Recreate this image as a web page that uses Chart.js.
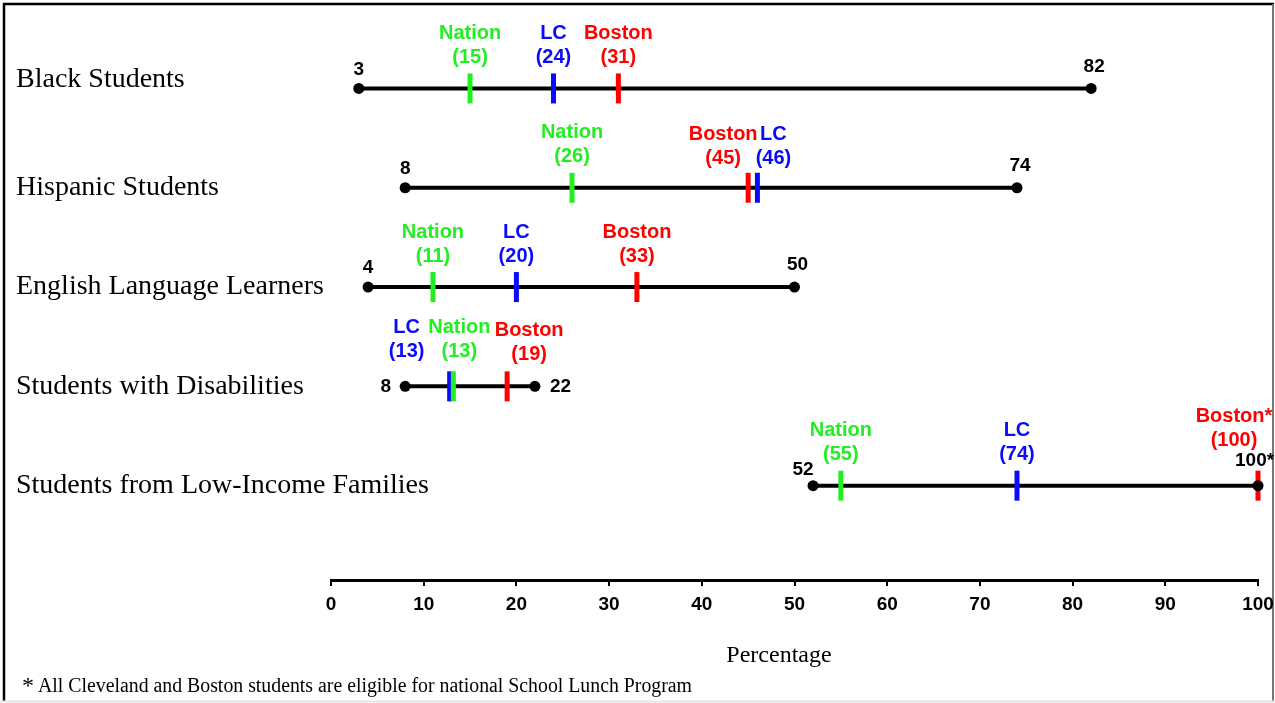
<!DOCTYPE html>
<html lang="en">
<head>
  <meta charset="UTF-8">
  <title>Student groups - percentage ranges</title>
  <script src="https://cdn.jsdelivr.net/npm/chart.js"></script>
  <style>
    html, body { margin: 0; padding: 0; background: #fff; }
    #chart { display: block; }
  </style>
</head>
<body>
  <canvas id="chart" width="1275" height="703"></canvas>

  <script>
    // row categories, top to bottom
    const rows = ['Black Students', 'Hispanic Students', 'English Language Learners',
      'Students with Disabilities', 'Students from Low-Income Families'];
    // range across the compared districts
    const rangeMin = [3, 8, 4, 8, 52];
    const rangeMax = [82, 74, 50, 22, 100];
    // markers (LC and Nation both read 13 in disabilities row, drawn side by side)
    const nation = [15, 26, 11, 13.2, 55];
    const lc = [24, 46, 20, 12.8, 74];
    const boston = [31, 45, 33, 19, 100];
    const xTicks = [0, 10, 20, 30, 40, 50, 60, 70, 80, 90, 100];
    const footnoteRow = 4;

    const GREEN = '#22ee22', BLUE = '#0a0aff', RED = '#ff0000';
    const SANS = '"Liberation Sans", Arial, sans-serif';
    const SERIF = '"Liberation Serif", "Times New Roman", serif';

    const markerSeries = [
      { name: 'Nation', values: nation, color: GREEN },
      { name: 'LC', values: lc, color: BLUE },
      { name: 'Boston', values: boston, color: RED }
    ];

    // label nudges where the marker labels would collide
    const labelShift = {
      '1-Boston': [-25, 2], '1-LC': [16, 2],
      '3-LC': [-43, -4], '3-Nation': [6, -4], '3-Boston': [22, -1],
      '4-Boston': [-24, -14]
    };

    const rangeSets = rows.map((r, i) => ({
      type: 'scatter',
      data: [{ x: rangeMin[i], y: i }, { x: rangeMax[i], y: i }],
      showLine: true,
      borderColor: '#000',
      borderWidth: 4,
      pointRadius: 0,
      clip: false,
      order: 3
    }));

    const markerSets = markerSeries.map(s => ({
      type: 'scatter',
      label: s.name,
      data: s.values.map((v, i) => ({ x: v, y: i })),
      pointStyle: 'line',
      rotation: 90,
      pointRadius: 15,
      borderWidth: 5,
      borderColor: s.color,
      backgroundColor: s.color,
      clip: false,
      order: 2
    }));

    const dotSet = {
      type: 'scatter',
      data: rows.flatMap((r, i) => [{ x: rangeMin[i], y: i }, { x: rangeMax[i], y: i }]),
      pointRadius: 5.5,
      backgroundColor: '#000',
      borderColor: '#000',
      borderWidth: 0,
      clip: false,
      order: 1
    };

    const framePlugin = {
      id: 'frame',
      beforeDraw(chart) {
        const ctx = chart.ctx;
        ctx.save();
        ctx.fillStyle = '#fff';
        ctx.fillRect(0, 0, chart.width, chart.height);
        ctx.strokeStyle = '#000';
        ctx.lineWidth = 2.5;
        ctx.beginPath();
        ctx.moveTo(4, 701);
        ctx.lineTo(4, 4);
        ctx.lineTo(1274, 4);
        ctx.stroke();
        ctx.strokeStyle = '#777';
        ctx.lineWidth = 2;
        ctx.beginPath();
        ctx.moveTo(1273, 4);
        ctx.lineTo(1273, 701);
        ctx.stroke();
        ctx.strokeStyle = '#e6e6e6';
        ctx.beginPath();
        ctx.moveTo(0, 701.5);
        ctx.lineTo(1275, 701.5);
        ctx.stroke();
        ctx.restore();
      }
    };

    const labelPlugin = {
      id: 'labels',
      afterDraw(chart) {
        const ctx = chart.ctx;
        const yScale = chart.scales.y;
        ctx.save();

        // row names on the left
        ctx.fillStyle = '#000';
        ctx.font = '28px ' + SERIF;
        ctx.textAlign = 'left';
        ctx.textBaseline = 'middle';
        rows.forEach((r, i) => {
          ctx.fillText(r, 16, yScale.getPixelForValue(i) + (i === 0 ? -9 : 0));
        });

        // marker labels: name over value
        markerSets.forEach((ds, k) => {
          const s = markerSeries[k];
          const meta = chart.getDatasetMeta(k + rangeSets.length);
          meta.data.forEach((pt, i) => {
            const sh = labelShift[i + '-' + s.name] || [0, 0];
            const name = (s.name === 'Boston' && i === footnoteRow) ? 'Boston*' : s.name;
            ctx.fillStyle = s.color;
            ctx.font = 'bold 20px ' + SANS;
            ctx.textAlign = 'center';
            ctx.textBaseline = 'middle';
            ctx.fillText(name, pt.x + sh[0], pt.y - 55 + sh[1]);
            ctx.fillText('(' + Math.round(s.values[i]) + ')', pt.x + sh[0], pt.y - 31 + sh[1]);
          });
        });

        // range end labels
        const dots = chart.getDatasetMeta(chart.data.datasets.length - 1).data;
        ctx.fillStyle = '#000';
        ctx.font = 'bold 19px ' + SANS;
        ctx.textBaseline = 'middle';
        rows.forEach((r, i) => {
          const a = dots[i * 2], b = dots[i * 2 + 1];
          const lo = String(rangeMin[i]);
          const hi = String(rangeMax[i]) + (i === footnoteRow ? '*' : '');
          if (i === 3) {
            ctx.textAlign = 'right';
            ctx.fillText(lo, a.x - 14, a.y);
            ctx.textAlign = 'left';
            ctx.fillText(hi, b.x + 15, b.y);
          } else if (i === footnoteRow) {
            ctx.textAlign = 'center';
            ctx.fillText(lo, a.x - 10, a.y - 16);
            ctx.textAlign = 'left';
            ctx.fillText(hi, b.x - 23, b.y - 25);
          } else {
            ctx.textAlign = 'center';
            ctx.fillText(lo, a.x, a.y - 19);
            ctx.fillText(hi, b.x + 3, b.y - 22);
          }
        });

        // axis title and footnote
        ctx.fillStyle = '#000';
        ctx.textAlign = 'center';
        ctx.textBaseline = 'alphabetic';
        ctx.font = '24px ' + SERIF;
        ctx.fillText('Percentage', 779, 662);
        ctx.textAlign = 'left';
        ctx.font = '24px ' + SERIF;
        ctx.fillText('*', 22, 693);
        ctx.font = '20px ' + SERIF;
        ctx.fillText('All Cleveland and Boston students are eligible for national School Lunch Program', 38, 692, 654);
        ctx.restore();
      }
    };

    new Chart(document.getElementById('chart'), {
      type: 'scatter',
      data: { datasets: [...rangeSets, ...markerSets, dotSet] },
      options: {
        responsive: false,
        animation: false,
        events: [],
        layout: { autoPadding: false, padding: { left: 331, right: 17, top: 9, bottom: 83 } },
        plugins: { legend: { display: false }, tooltip: { enabled: false } },
        scales: {
          x: {
            type: 'linear',
            min: 0,
            max: 100,
            afterBuildTicks: s => { s.ticks = xTicks.map(v => ({ value: v })); },
            afterFit: s => { s.height = 40; s.paddingLeft = 0; s.paddingRight = 0; },
            grid: { drawOnChartArea: false, drawTicks: true, tickLength: 6, color: '#000', lineWidth: 2 },
            border: { color: '#000', width: 3 },
            ticks: { color: '#000', font: { family: SANS, size: 19, weight: 'bold' }, padding: 7, maxRotation: 0 }
          },
          y: {
            type: 'linear',
            display: false,
            reverse: true,
            min: -0.8,
            max: 4.95
          }
        }
      },
      plugins: [framePlugin, labelPlugin]
    });
  </script>
</body>
</html>
